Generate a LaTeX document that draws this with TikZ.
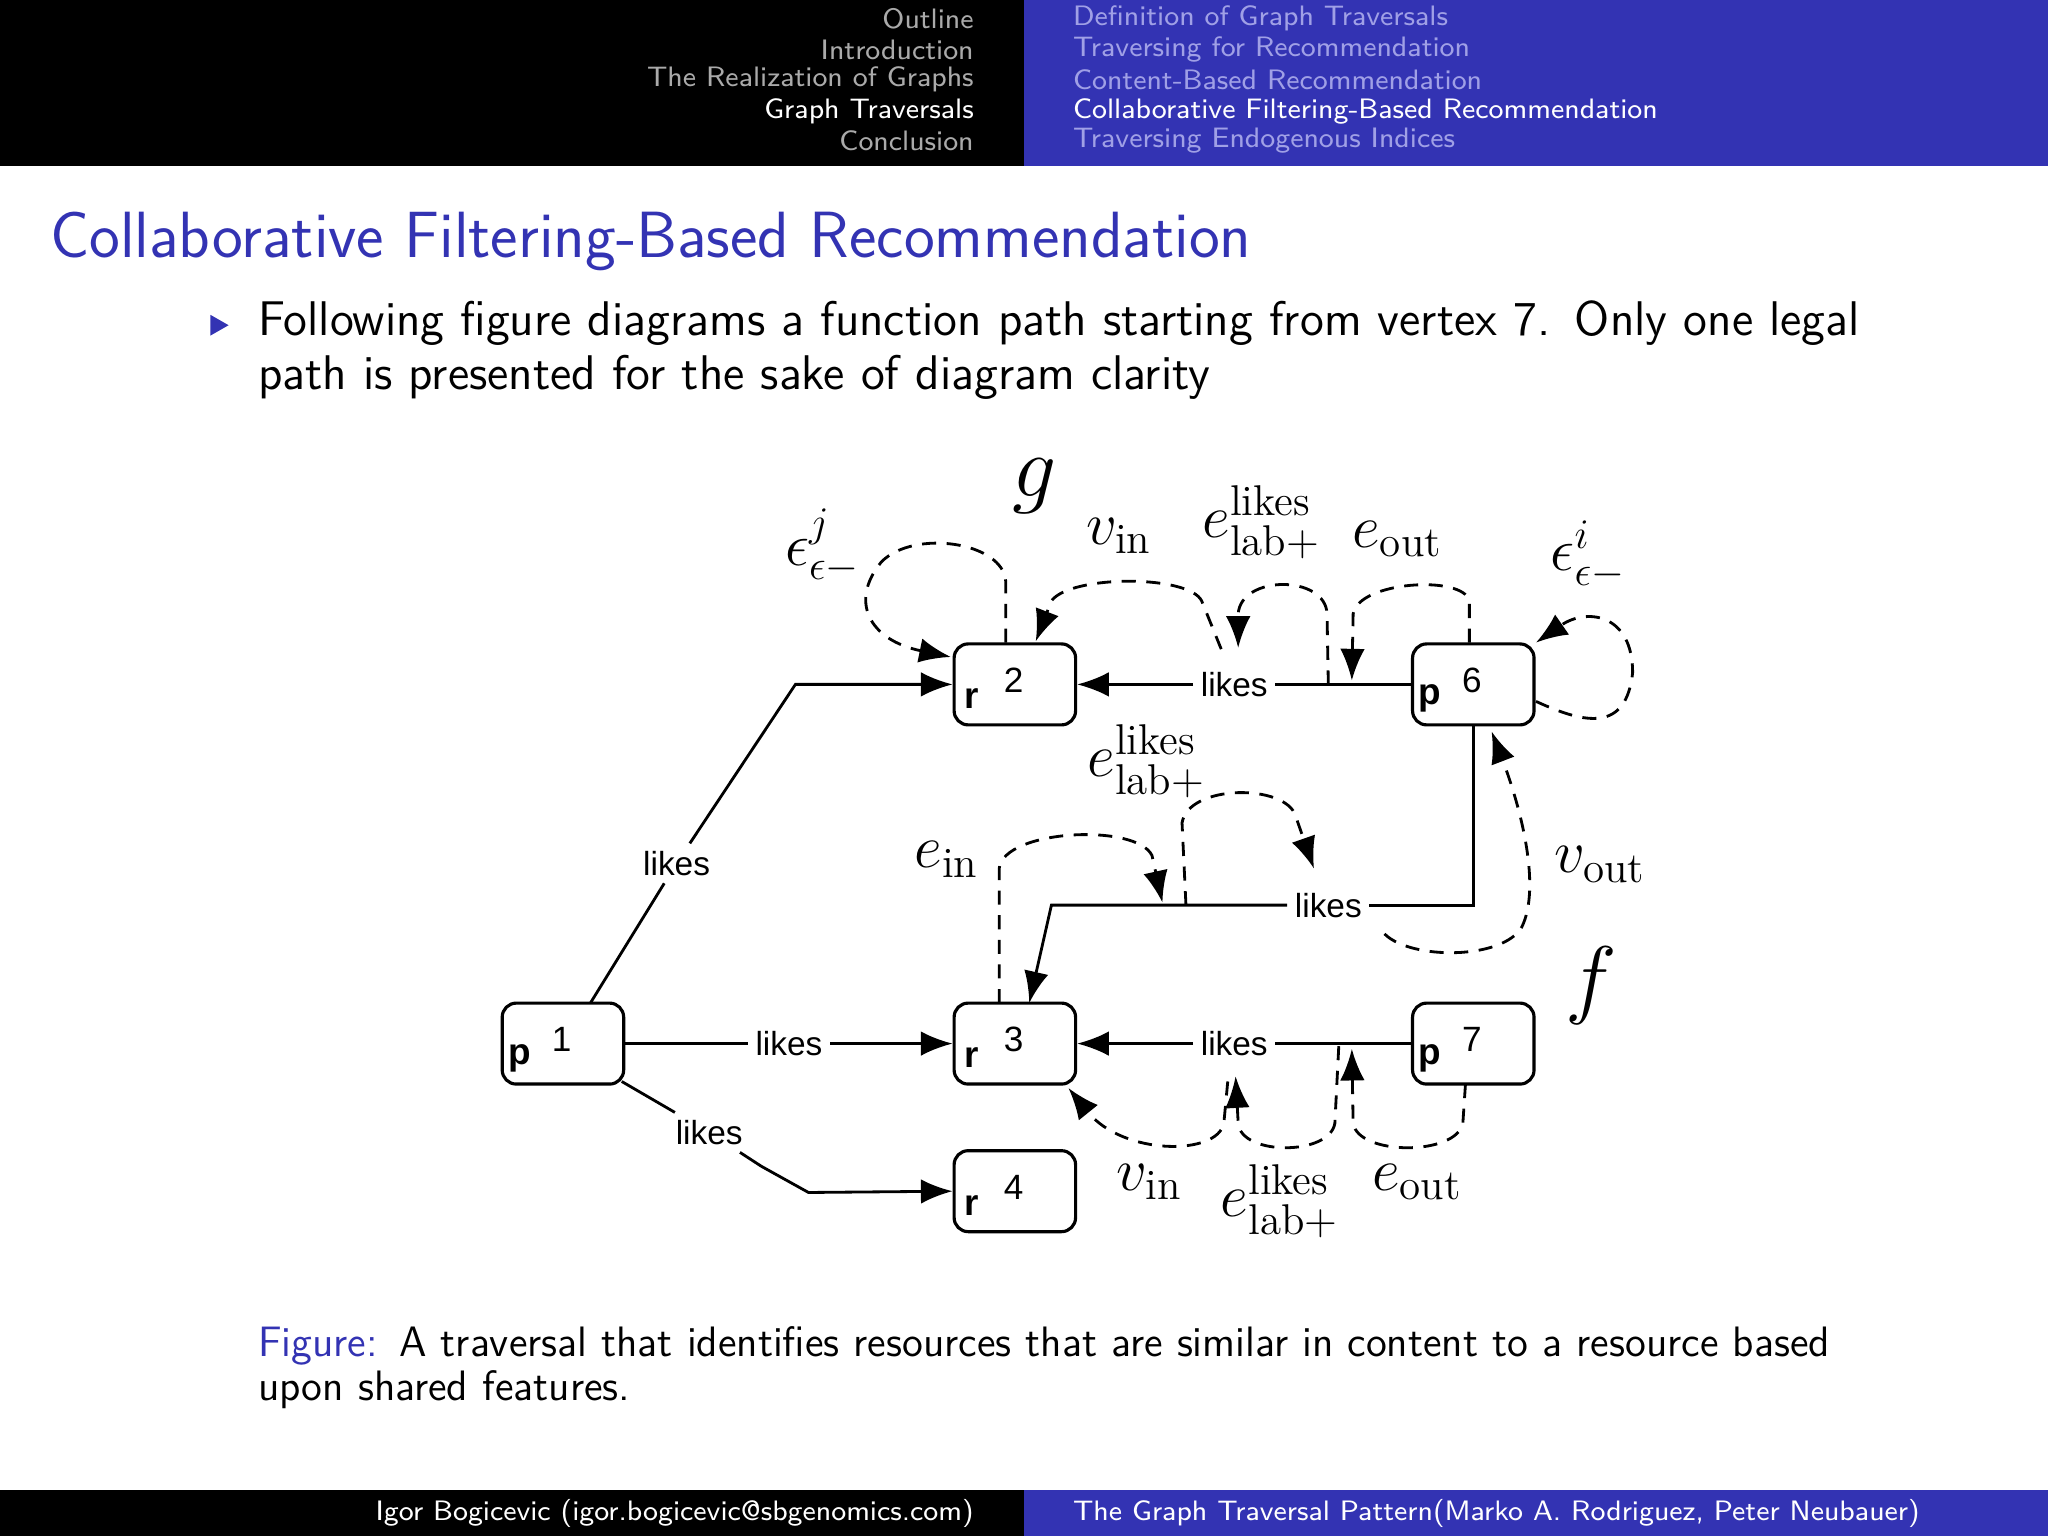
\documentclass[tikz,border=0pt]{standalone}
\usepackage{fontspec}
\usepackage{amsmath}
\newfontfamily\arialf{Liberation Sans}
\usetikzlibrary{arrows.meta}
\definecolor{bblue}{RGB}{51,51,179}
\definecolor{lblue}{RGB}{160,160,230}
\definecolor{lgray}{RGB}{170,170,170}
\begin{document}
\begin{tikzpicture}[x=0.01306cm,y=-0.01306cm,
  box/.style={draw,rounded corners=4pt,line width=0.9pt,minimum width=93*0.01306cm,minimum height=62*0.01306cm,inner sep=0},
  lab/.style={font=\arialf\fontsize{9.5}{11}\selectfont,inner sep=2pt,fill=white},
  ml/.style={font=\fontsize{17.5}{19}\selectfont,inner sep=1pt},
  sol/.style={line width=0.8pt},
  dsh/.style={line width=0.8pt,dashed,dash pattern=on 4pt off 3pt},
  arr/.style={-{Latex[length=9pt,width=7pt]}},
  hd/.style={font=\sffamily\fontsize{8}{9}\selectfont,inner sep=0}]
\useasboundingbox (0,0) rectangle (1568,1176);
\fill[black] (0,0) rectangle (784,127);
\fill[bblue] (784,0) rectangle (1568,127);
\fill[black] (0,1141) rectangle (784,1176);
\fill[bblue] (784,1141) rectangle (1568,1176);
% header
\node[hd,anchor=east,text=lgray] (h1) at (746,14) {Outline};
\node[hd,anchor=east,text=lgray] (h2) at (746,38) {Introduction};
\node[hd,anchor=east,text=lgray] (h3) at (746,61) {The Realization of Graphs};
\node[hd,anchor=east,text=white] (h4) at (746,85) {Graph Traversals};
\node[hd,anchor=east,text=lgray] (h5) at (746,108) {Conclusion};
\node[hd,anchor=west,text=lblue] (k1) at (821,14) {Definition of Graph Traversals};
\node[hd,anchor=west,text=lblue] (k2) at (821,38) {Traversing for Recommendation};
\node[hd,anchor=west,text=lblue] (k3) at (821,61) {Content-Based Recommendation};
\node[hd,anchor=west,text=white] (k4) at (821,85) {Collaborative Filtering-Based Recommendation};
\node[hd,anchor=west,text=lblue] (k5) at (821,108) {Traversing Endogenous Indices};
% title
\node[anchor=west,text=bblue,font=\sffamily\fontsize{18.6}{21}\selectfont,inner sep=0] (title) at (38,185) {Collaborative Filtering-Based Recommendation};
\fill[bblue] (161,241) -- (175,249) -- (161,257) -- cycle;
\node[anchor=north west,font=\sffamily\fontsize{13.85}{15.2}\selectfont,inner sep=0,align=left,text width=1300*0.01306cm] (bul) at (197,230) {Following figure diagrams a function path starting from vertex 7. Only one legal\\ path is presented for the sake of diagram clarity};
% boxes
\node[box] (r2) at (777,524) {};
\node[box] (p6) at (1128,524) {};
\node[box] (r3) at (777,799) {};
\node[box] (p1) at (431,799) {};
\node[box] (p7) at (1128,799) {};
\node[box] (r4) at (777,912) {};
\foreach \n/\l/\d in {r2/r/2,p6/p/6,r3/r/3,p1/p/1,p7/p/7,r4/r/4}{
  \node[font=\arialf\bfseries\fontsize{10.5}{12}\selectfont,inner sep=0] at ([xshift=-33*0.01306cm,yshift=-11*0.01306cm]\n.center) {\l};
  \node[font=\arialf\fontsize{10}{12}\selectfont,inner sep=0] at ([xshift=-1*0.01306cm,yshift=3*0.01306cm]\n.center) {\d};}
% solid edges
\node[lab] (la) at (518,661) {likes};
\coordinate (ca) at (609,524);
\draw[sol] (452,768) -- (la);
\draw[sol,arr] (la) -- (ca) -- (r2.west);
\node[lab] (lb) at (604,799) {likes};
\draw[sol,arr] (p1.east) -- (lb) -- (r3.west);
\node[lab] (lc) at (543,867) {likes};
\coordinate (cc) at (619,913);
\draw[sol] (476,828) -- (lc);
\draw[sol,arr] (lc) -- (583,893) -- (cc) -- (r4.west);
\node[lab] (ld) at (945,524) {likes};
\draw[sol,arr] (p6.west) -- (ld) -- (r2.east);
\node[lab] (le) at (1017,693) {likes};
\coordinate (ce1) at (1128,693);
\coordinate (ce2) at (805,693);
\draw[sol] (p6.south) -- (ce1) -- (le);
\draw[sol,arr] (le) -- (ce2) -- (788,768);
\node[lab] (lf) at (945,799) {likes};
\draw[sol,arr] (p7.west) -- (lf) -- (r3.east);
% dashed edges
\draw[dsh,arr] (770,492) -- (770,445) .. controls (768,415) and (700,405) .. (675,430) .. controls (650,460) and (665,490) .. (728,503);
\node[ml] (ej) at (630,418) {$\epsilon^{j}_{\epsilon-}$};
\draw[dsh,arr] (935,497) -- (920,460) .. controls (910,440) and (820,440) .. (805,460) -- (793,491);
\node[ml] (v1) at (857,410) {$v_{\text{in}}$};
\draw[dsh,arr] (1017,524) -- (1016,470) .. controls (1015,440) and (950,440) .. (948,470) -- (948,496);
\node[ml] (el1) at (966,400) {$e^{\text{likes}}_{\text{lab+}}$};
\draw[dsh,arr] (1125,492) -- (1125,460) .. controls (1120,440) and (1040,445) .. (1036,470) -- (1035,521);
\node[ml] (eo1) at (1070,413) {$e_{\text{out}}$};
\draw[dsh,arr] (1176,537) .. controls (1215,555) and (1245,560) .. (1250,515) .. controls (1250,470) and (1215,465) .. (1176,492);
\node[ml] (ei) at (1216,425) {$\epsilon^{i}_{\epsilon-}$};
\draw[dsh,arr] (1060,715) .. controls (1080,735) and (1150,735) .. (1165,710) .. controls (1180,680) and (1165,620) .. (1142,560);
\node[ml] (vo) at (1225,662) {$v_{\text{out}}$};
\draw[dsh,arr] (765,768) -- (765,665) .. controls (768,635) and (870,630) .. (882,655) -- (890,691);
\node[ml] (ein) at (725,658) {$e_{\text{in}}$};
\draw[dsh,arr] (908,693) -- (905,630) .. controls (910,600) and (985,600) .. (992,625) -- (1006,665);
\node[ml] (el2) at (878,583) {$e^{\text{likes}}_{\text{lab+}}$};
\draw[dsh,arr] (940,828) -- (937,860) .. controls (932,885) and (860,885) .. (818,833);
\node[ml] (v2) at (880,905) {$v_{\text{in}}$};
\draw[dsh,arr] (1025,801) -- (1022,860) .. controls (1018,885) and (950,885) .. (948,860) -- (946,824);
\node[ml] (el3) at (980,920) {$e^{\text{likes}}_{\text{lab+}}$};
\draw[dsh,arr] (1122,830) -- (1120,860) .. controls (1115,885) and (1040,885) .. (1036,860) -- (1035,803);
\node[ml] (eo2) at (1085,905) {$e_{\text{out}}$};
\node[font=\fontsize{31}{33}\selectfont] (g) at (792,372) {$g$};
\node[font=\fontsize{31}{33}\selectfont] (f) at (1218,755) {$f$};
% caption
\node[anchor=north west,font=\sffamily\fontsize{12.1}{12.6}\selectfont,inner sep=0,align=left,text width=1300*0.01306cm] (cap) at (197,1015) {\textcolor{bblue}{Figure:} A traversal that identifies resources that are similar in content to a resource based\\ upon shared features.};
% footer
\node[font=\sffamily\fontsize{8}{9}\selectfont,text=white,anchor=east,inner sep=0] (f1) at (746,1159) {Igor Bogicevic (igor.bogicevic@sbgenomics.com)};
\node[font=\sffamily\fontsize{8}{9}\selectfont,text=white,anchor=west,inner sep=0] (f2) at (821,1159) {The Graph Traversal Pattern(Marko A. Rodriguez, Peter Neubauer)};
\end{tikzpicture}
\end{document}
